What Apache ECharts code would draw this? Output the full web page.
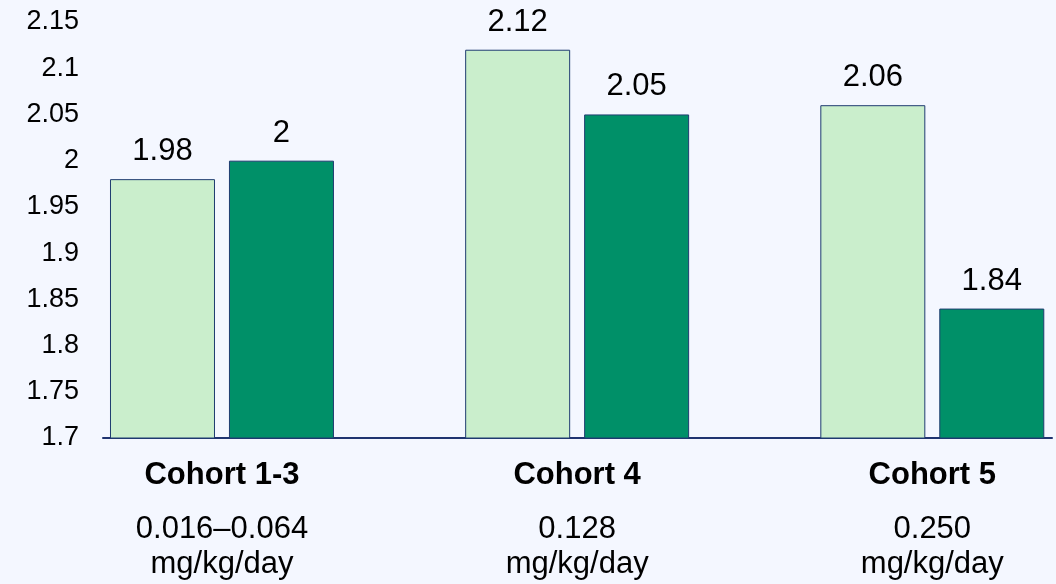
<!DOCTYPE html>
<html>
<head>
<meta charset="utf-8">
<script src="https://cdn.jsdelivr.net/npm/echarts@6/dist/echarts.min.js"></script>
<style>
  html, body { margin: 0; padding: 0; background: #f4f7ff; }
  #dose-chart { width: 1056px; height: 584px; }
</style>
</head>
<body>
<div id="dose-chart"></div>
<script>
var cohorts = ['Cohort 1-3', 'Cohort 4', 'Cohort 5'];
var doses = ['0.016\u20130.064', '0.128', '0.250'];
var doseUnit = 'mg/kg/day';
var lightValues = [1.98, 2.12, 2.06];
var darkValues = [2, 2.05, 1.84];
var yTicks = { min: 1.7, max: 2.15, step: 0.05 };

var chartDom = document.getElementById('dose-chart');
var doseChart = echarts.init(chartDom, null, { renderer: 'canvas' });
var fontName = 'Liberation Sans, Arial, sans-serif';

// bars sit on a value axis so the groups can keep their own spacing
function toPoints(values) {
    return values.map(function (v, i) {
        return [i, v];
    });
}

function barSeries(name, values, color) {
    return {
        name: name,
        type: 'bar',
        data: toPoints(values),
        barWidth: 105,
        barGap: '13.3%',
        itemStyle: {
            color: color,
            borderColor: '#1f3c70',
            borderWidth: 1
        },
        label: {
            show: true,
            position: 'top',
            distance: 12,
            fontFamily: fontName,
            fontSize: 31,
            color: '#000',
            formatter: function (p) {
                return String(p.value[1]);
            }
        }
    };
}

var option = {
    backgroundColor: '#f4f7ff',
    animation: false,
    grid: {
        left: 103,
        right: 4,
        top: 22,
        bottom: 146
    },
    xAxis: {
        type: 'value',
        min: -0.335,
        max: 2.337,
        axisLine: {
            show: true,
            onZero: false,
            lineStyle: { color: '#1f3470', width: 2 }
        },
        axisTick: { show: false },
        splitLine: { show: false },
        axisLabel: {
            customValues: [0, 1, 2],
            margin: 20,
            color: '#000',
            fontFamily: fontName,
            formatter: function (value) {
                var i = Math.round(value);
                return '{a|' + cohorts[i] + '}\n{g| }\n{b|' + doses[i] + '}\n{b|' + doseUnit + '}';
            },
            rich: {
                a: { fontFamily: fontName, fontSize: 31, fontWeight: 'bold', lineHeight: 34, color: '#000' },
                g: { fontSize: 4, lineHeight: 20 },
                b: { fontFamily: fontName, fontSize: 31, lineHeight: 35, color: '#000' }
            }
        }
    },
    yAxis: {
        type: 'value',
        min: yTicks.min,
        max: yTicks.max,
        interval: yTicks.step,
        axisLine: { show: false },
        axisTick: { show: false },
        splitLine: { show: false },
        axisLabel: {
            margin: 24,
            color: '#000',
            fontFamily: fontName,
            fontSize: 27,
            formatter: function (v) {
                return String(+v.toFixed(2));
            }
        }
    },
    series: [
        barSeries('light', lightValues, '#caeecc'),
        barSeries('dark', darkValues, '#009068')
    ]
};

option && doseChart.setOption(option);
</script>
</body>
</html>
